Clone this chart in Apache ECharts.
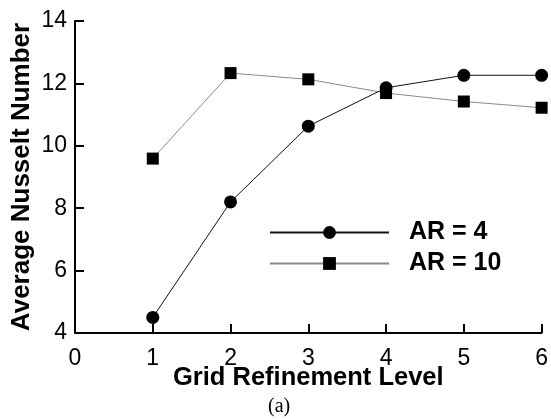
<!DOCTYPE html>
<html>
<head>
<meta charset="utf-8">
<script src="https://cdn.jsdelivr.net/npm/echarts@6/dist/echarts.min.js"></script>
<style>
  html, body { margin: 0; padding: 0; background: #fff; }
  #chart { width: 551px; height: 419px; }
</style>
</head>
<body>
<div id="chart"></div>
<script>
// Grid refinement study: average Nusselt number per refinement level
const levels = [1, 2, 3, 4, 5, 6];
const nuAR4 = [4.5, 8.2, 10.63, 11.86, 12.26, 12.26];
const nuAR10 = [9.59, 12.33, 12.13, 11.69, 11.42, 11.22];
const seriesNames = ['AR = 4', 'AR = 10'];
const xTicks = { min: 0, max: 6, step: 1 };
const yTicks = { min: 4, max: 14, step: 2 };

const pairs = (xs, ys) => xs.map((x, i) => [x, ys[i]]);

const chart = echarts.init(document.getElementById('chart'), null, { renderer: 'canvas' });

const axisCommon = {
  axisLine: { show: true, onZero: false, lineStyle: { color: '#000', width: 2 } },
  axisTick: { show: true, inside: true, length: 9, lineStyle: { color: '#000', width: 2 } },
  splitLine: { show: false },
  nameMoveOverlap: false
};
const nameFont = { fontFamily: 'Liberation Sans', fontWeight: 'bold', color: '#000' };

chart.setOption({
  animation: false,
  backgroundColor: '#fff',
  title: {
    text: '(a)',
    left: 268,
    top: 397,
    padding: 0,
    textStyle: { fontFamily: 'Liberation Serif', fontWeight: 'normal', fontSize: 20, color: '#000' }
  },
  grid: { left: 75, right: 6, top: 21, bottom: 86, containLabel: false },
  legend: {
    orient: 'vertical',
    left: 269,
    top: 220,
    padding: 0,
    itemWidth: 119,
    itemHeight: 16,
    itemGap: 6,
    data: seriesNames,
    textStyle: {
      fontFamily: 'Liberation Sans', fontWeight: 'bold', fontSize: 25, color: '#000',
      padding: [0, 0, 0, 15]
    }
  },
  xAxis: Object.assign({}, axisCommon, {
    type: 'value',
    min: xTicks.min, max: xTicks.max, interval: xTicks.step,
    name: 'Grid Refinement Level',
    nameLocation: 'middle',
    nameGap: 32,
    nameTextStyle: Object.assign({ fontSize: 25.5 }, nameFont),
    axisLabel: { margin: 14, fontFamily: 'Liberation Sans', fontSize: 23, color: '#000' }
  }),
  yAxis: Object.assign({}, axisCommon, {
    type: 'value',
    min: yTicks.min, max: yTicks.max, interval: yTicks.step,
    name: 'Average Nusselt Number',
    nameLocation: 'middle',
    nameGap: 40,
    nameTextStyle: Object.assign({ fontSize: 26 }, nameFont),
    axisLabel: { margin: 8, fontFamily: 'Liberation Sans', fontSize: 23, color: '#000' }
  }),
  series: [
    {
      name: seriesNames[0],
      type: 'line',
      data: pairs(levels, nuAR4),
      symbol: 'circle',
      symbolSize: 13,
      itemStyle: { color: '#000' },
      lineStyle: { color: '#111', width: 1 },
      z: 3
    },
    {
      name: seriesNames[1],
      type: 'line',
      data: pairs(levels, nuAR10),
      symbol: 'rect',
      symbolSize: 12,
      itemStyle: { color: '#000' },
      lineStyle: { color: '#8a8a8a', width: 1 },
      z: 2
    }
  ]
});
</script>
</body>
</html>
